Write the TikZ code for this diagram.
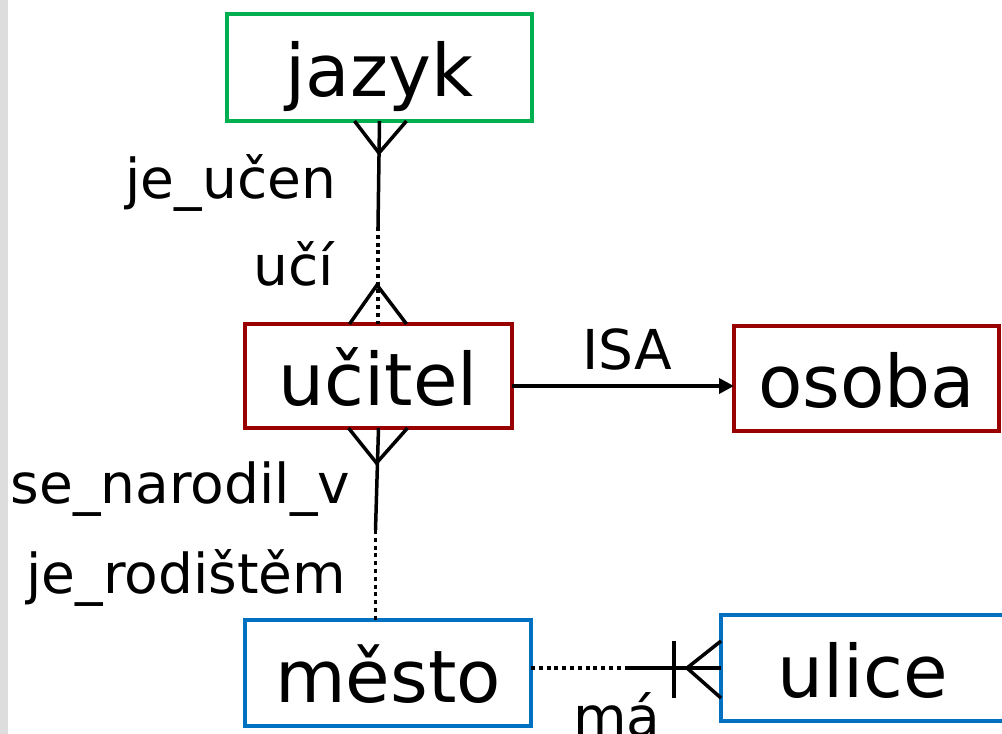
\documentclass[tikz,border=0pt]{standalone}
\usepackage{fontspec}
\setmainfont{DejaVu Sans}
\usetikzlibrary{calc,arrows.meta}
\definecolor{egreen}{HTML}{00B050}
\definecolor{ered}{HTML}{990000}
\definecolor{eblue}{HTML}{0070C0}
\definecolor{strip}{HTML}{DDDDDD}
\begin{document}
\begin{tikzpicture}[x=1pt,y=-1pt,
  entity/.style={draw, line width=4pt, rectangle, inner sep=0pt, outer sep=0pt,
    text height=58pt, text depth=0pt, font=\fontsize{72.5}{80}\selectfont},
  lbl/.style={inner sep=0pt, outer sep=0pt, font=\fontsize{55}{60}\selectfont},
  conn/.style={line width=3.5pt, black},
  dotline/.style={line width=3.5pt, black, dash pattern=on 4pt off 3.8pt}]
\useasboundingbox (0,0) rectangle (1002,734);
\fill[white] (0,0) rectangle (1002,734);
\fill[strip] (0,0) rectangle (8,734);

% entities
\node[entity, draw=egreen, minimum width=305pt, minimum height=107pt] (jazyk) at (379.5,67.5) {jazyk};
\node[entity, draw=ered, minimum width=267pt, minimum height=104pt] (ucitel) at (378.5,376) {učitel};
\node[entity, draw=ered, minimum width=265pt, minimum height=105pt] (osoba) at (866.5,378.5) {osoba};
\node[entity, draw=eblue, minimum width=286pt, minimum height=106pt] (mesto) at (388,673) {město};
\node[entity, draw=eblue, minimum width=284pt, minimum height=106pt] (ulice) at (863,668) {ulice};

% jazyk -- ucitel
\coordinate (j1) at (378,227);
\draw[conn] (jazyk.south) -- (j1);
\draw[dotline] (j1) -- (j1 |- ucitel.north);
\draw[conn] ($(jazyk.south)+(-25,0)$) -- ($(jazyk.south)+(-0.5,32)$) -- ($(jazyk.south)+(27,0)$);
\draw[conn] ($(ucitel.north)+(-29,0)$) -- ($(ucitel.north)+(-1.5,-39)$) -- ($(ucitel.north)+(28,0)$);

% ucitel -- mesto
\coordinate (u1) at (375.5,530);
\draw[conn] (ucitel.south) -- (u1);
\draw[dotline] (u1) -- (u1 |- mesto.north);
\draw[conn] ($(ucitel.south)+(-30,0)$) -- ($(ucitel.south)+(-2,35)$) -- ($(ucitel.south)+(29,0)$);

% mesto -- ulice
\coordinate (m2) at (627,668);
\draw[dotline] (mesto.east |- m2) -- (m2);
\draw[conn] (m2) -- (ulice.west);
\draw[conn] ($(ulice.west)+(-47,-27)$) -- ($(ulice.west)+(-47,30)$);
\draw[conn] ($(ulice.west)+(0,-27)$) -- ($(ulice.west)+(-34,0)$) -- ($(ulice.west)+(0,30)$);

% ISA
\draw[conn, -{Triangle[length=15pt,width=15pt]}] ($(ucitel.east)+(0,10)$) -- ($(osoba.west)+(0,7.5)$);

% labels
\node[lbl, anchor=base east] (l1) at (336,198) {je\_učen};
\node[lbl, anchor=base east] (l2) at (334,285) {učí};
\node[lbl, anchor=base east] (l3) at (350,503) {se\_narodil\_v};
\node[lbl, anchor=base east] (l4) at (346,593) {je\_rodištěm};
\node[lbl, anchor=base] (l5) at (627,369) {ISA};
\node[lbl, anchor=base] (l6) at (617,736) {má};
\end{tikzpicture}
\end{document}
